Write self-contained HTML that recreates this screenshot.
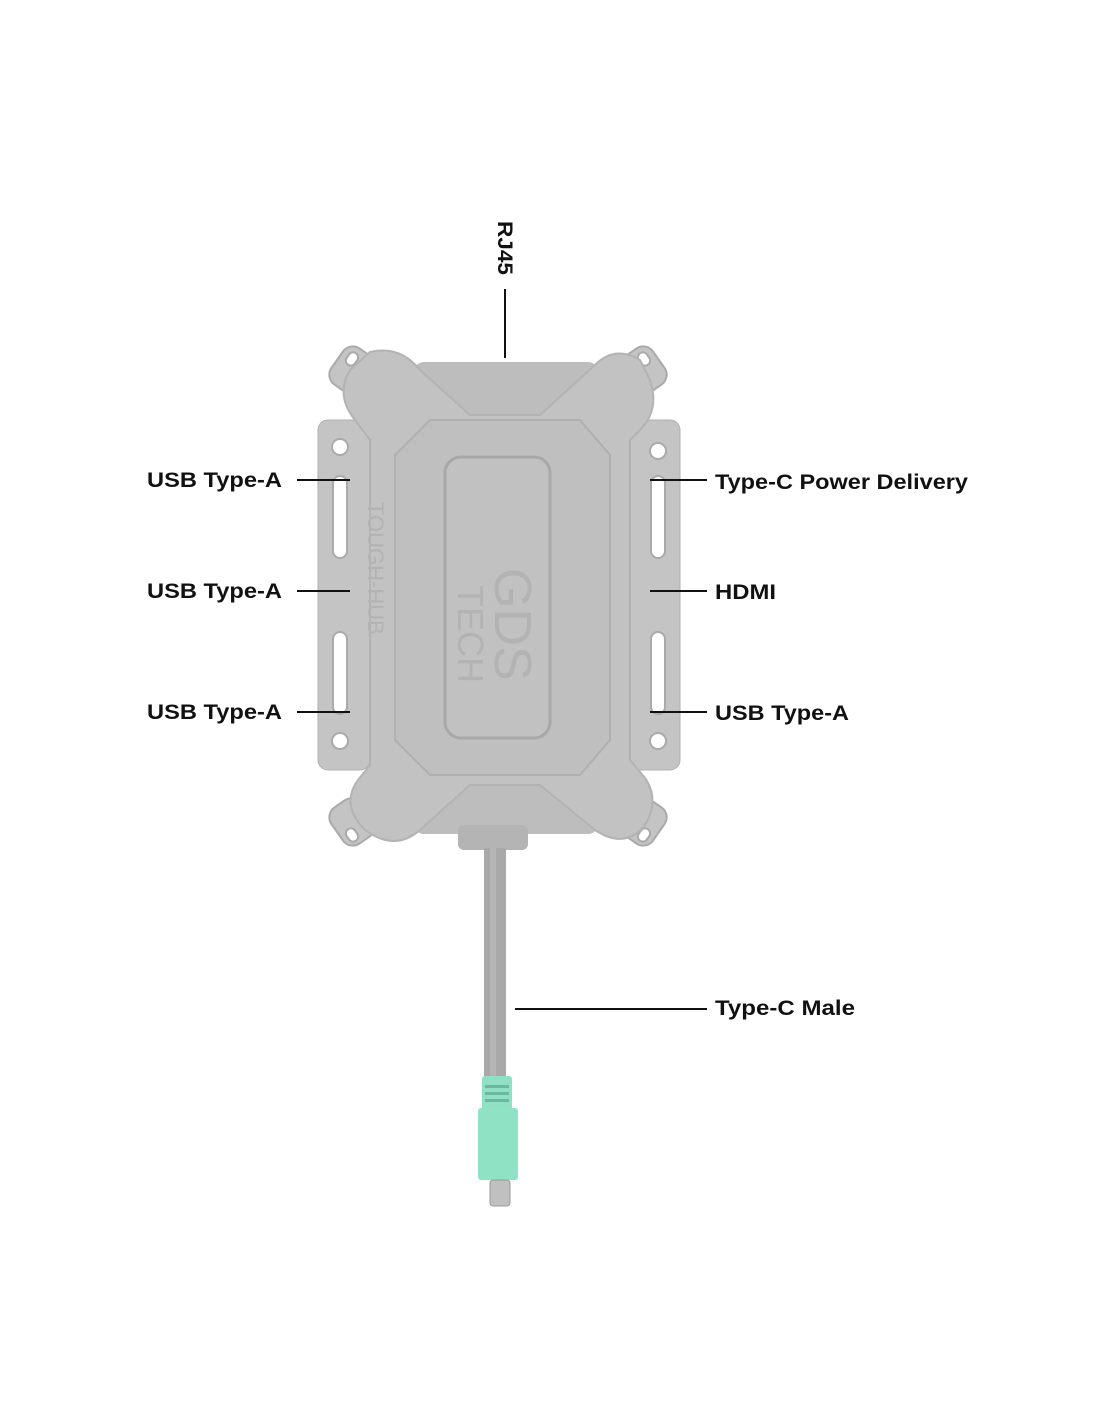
<!DOCTYPE html>
<html><head><meta charset="utf-8"><style>
html,body{margin:0;padding:0;background:#fff;}
svg{display:block;}
text{font-family:"Liberation Sans",Arial,sans-serif;font-weight:bold;font-size:21.5px;fill:#111;}
</style></head><body>
<svg width="1100" height="1422" viewBox="0 0 1100 1422" xmlns="http://www.w3.org/2000/svg">
<rect x="318" y="420" width="52" height="350" rx="10" fill="#c4c4c4" stroke="#b0b0b0"/>
<rect x="630" y="420" width="50" height="350" rx="10" fill="#c4c4c4" stroke="#b0b0b0"/>
<circle cx="340" cy="447" r="8" fill="#fff" stroke="#aaa" stroke-width="2"/>
<circle cx="340" cy="741" r="8" fill="#fff" stroke="#aaa" stroke-width="2"/>
<circle cx="658" cy="451" r="8" fill="#fff" stroke="#aaa" stroke-width="2"/>
<circle cx="658" cy="741" r="8" fill="#fff" stroke="#aaa" stroke-width="2"/>
<rect x="333" y="476" width="14" height="82" rx="7" fill="#fff" stroke="#aaa" stroke-width="2"/>
<rect x="333" y="632" width="14" height="82" rx="7" fill="#fff" stroke="#aaa" stroke-width="2"/>
<rect x="651" y="476" width="14" height="82" rx="7" fill="#fff" stroke="#aaa" stroke-width="2"/>
<rect x="651" y="632" width="14" height="82" rx="7" fill="#fff" stroke="#aaa" stroke-width="2"/>
<g fill="#c4c4c4" stroke="#aaa" stroke-width="2">
<rect x="334" y="348" width="36" height="44" rx="12" transform="rotate(35 352 370)"/>
<rect x="626" y="348" width="36" height="44" rx="12" transform="rotate(-35 644 370)"/>
<rect x="334" y="800" width="36" height="44" rx="12" transform="rotate(-35 352 822)"/>
<rect x="626" y="800" width="36" height="44" rx="12" transform="rotate(35 644 822)"/>
</g>
<g fill="#fff" stroke="#aaa" stroke-width="2">
<rect x="345" y="354" width="14" height="10" rx="5" transform="rotate(-55 352 359)"/>
<rect x="637" y="354" width="14" height="10" rx="5" transform="rotate(55 644 359)"/>
<rect x="345" y="830" width="14" height="10" rx="5" transform="rotate(55 352 835)"/>
<rect x="637" y="830" width="14" height="10" rx="5" transform="rotate(-55 644 835)"/>
</g>
<rect x="414" y="362" width="184" height="472" rx="10" fill="#bdbdbd"/>
<path d="M370 352 Q400 345 420 370 L470 415 L540 415 L595 365 Q615 345 640 360 L650 380 Q660 410 640 430 L630 440 L630 760 L645 778 Q660 800 645 825 Q625 850 595 830 L540 785 L470 785 L420 830 Q395 852 365 830 Q340 805 358 780 L370 765 L370 440 L355 420 Q335 395 350 370 Z" fill="#c2c2c2" stroke="#b3b3b3" stroke-width="2"/>
<path d="M395 455 L430 420 L580 420 L610 455 L610 740 L580 775 L430 775 L395 740 Z" fill="#bfbfbf" stroke="#b0b0b0" stroke-width="2"/>
<rect x="445" y="457" width="105" height="281" rx="16" fill="#c1c1c1" stroke="#a8a8a8" stroke-width="3"/>
<text x="0" y="0" style="font-size:52px;fill:#b3b3b3;font-weight:normal" transform="translate(495 568) rotate(90)">GDS</text>
<text x="0" y="0" style="font-size:36px;fill:#b3b3b3;font-weight:normal" transform="translate(458 585) rotate(90)">TECH</text>
<text x="0" y="0" style="font-size:22px;fill:#b3b3b3;font-weight:normal" transform="translate(368 502) rotate(90)">TOUGH-HUB</text>
<rect x="458" y="825" width="70" height="25" rx="6" fill="#b4b4b4"/>
<rect x="484" y="848" width="22" height="230" fill="#a9a9a9"/>
<rect x="490" y="848" width="6" height="230" fill="#b5b5b5"/>
<rect x="482" y="1076" width="30" height="36" rx="3" fill="#8fe0c4"/>
<rect x="485" y="1085" width="24" height="3" fill="#6cb79f"/>
<rect x="485" y="1092" width="24" height="3" fill="#6cb79f"/>
<rect x="485" y="1099" width="24" height="3" fill="#6cb79f"/>
<rect x="478" y="1108" width="40" height="72" rx="3" fill="#90e2c5"/>
<rect x="490" y="1180" width="20" height="26" rx="3" fill="#c0c0c0" stroke="#999"/>
<g stroke="#111" stroke-width="2">
<line x1="505" y1="289" x2="505" y2="358"/>
<line x1="297" y1="480" x2="350" y2="480"/>
<line x1="297" y1="591" x2="350" y2="591"/>
<line x1="297" y1="712" x2="350" y2="712"/>
<line x1="650" y1="480" x2="707" y2="480"/>
<line x1="650" y1="591" x2="707" y2="591"/>
<line x1="650" y1="712" x2="707" y2="712"/>
<line x1="515" y1="1009" x2="707" y2="1009"/>
</g>
<text x="147" y="487" textLength="135" lengthAdjust="spacingAndGlyphs">USB Type-A</text>
<text x="147" y="598" textLength="135" lengthAdjust="spacingAndGlyphs">USB Type-A</text>
<text x="147" y="719" textLength="135" lengthAdjust="spacingAndGlyphs">USB Type-A</text>
<text x="715" y="489" textLength="253" lengthAdjust="spacingAndGlyphs">Type-C Power Delivery</text>
<text x="715" y="599" textLength="61" lengthAdjust="spacingAndGlyphs">HDMI</text>
<text x="715" y="720" textLength="134" lengthAdjust="spacingAndGlyphs">USB Type-A</text>
<text x="715" y="1015" textLength="140" lengthAdjust="spacingAndGlyphs">Type-C Male</text>
<text x="0" y="0" textLength="54" lengthAdjust="spacingAndGlyphs" transform="translate(498 221) rotate(90)">RJ45</text>
</svg>
</body></html>
